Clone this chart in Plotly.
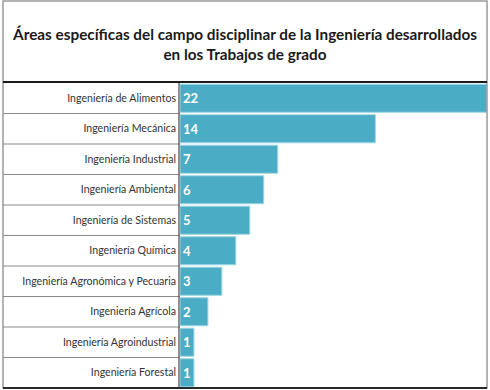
import plotly.graph_objects as go

categories = [
    "Ingeniería de Alimentos",
    "Ingeniería Mecánica",
    "Ingeniería Industrial",
    "Ingeniería Ambiental",
    "Ingeniería de Sistemas",
    "Ingeniería Química",
    "Ingeniería Agronómica y Pecuaria",
    "Ingeniería Agrícola",
    "Ingeniería Agroindustrial",
    "Ingeniería Forestal",
]
values = [22, 14, 7, 6, 5, 4, 3, 2, 1, 1]

title_lines = [
    "Áreas específicas del campo disciplinar de la Ingeniería desarrollados",
    "en los Trabajos de grado",
]

BAR_COLOR = "#4BACC6"
FONT = "Lato"

fig = go.Figure()
fig.add_trace(go.Bar(
    y=categories,
    x=values,
    orientation="h",
    marker=dict(color=BAR_COLOR, line=dict(color="#9fd6e4", width=1)),
    text=[str(v) for v in values],
    textposition="inside",
    insidetextanchor="start",
    textangle=0,
    constraintext="none",
    textfont=dict(family=FONT, size=13, color="white", weight="bold"),
    cliponaxis=False,
    hoverinfo="skip",
))

W, H = 490, 390
L, R, T, B = 180, 3, 83, 2

fig.update_layout(
    width=W, height=H,
    margin=dict(l=L, r=R, t=T, b=B, pad=0),
    paper_bgcolor="white",
    plot_bgcolor="white",
    showlegend=False,
    bargap=0.08,
    title=dict(
        text="<b>" + "<br>".join(title_lines) + "</b>",
        x=0.5, xanchor="center",
        y=1 - 40 / H, yanchor="middle",
        font=dict(family=FONT, size=15.3, color="#1a1a1a"),
    ),
    xaxis=dict(
        range=[0, 22], visible=False, fixedrange=True,
    ),
    yaxis=dict(
        autorange="reversed",
        showgrid=False, zeroline=False, showline=False,
        ticks="", ticklabelstandoff=3,
        tickfont=dict(family=FONT, size=10.6, color="#333333"),
        fixedrange=True,
    ),
)

PW = W - L - R
PH = H - T - B
shapes = []
# outer border
shapes.append(dict(type="rect", xref="paper", yref="paper",
                   x0=-(L - 3) / PW, x1=1.0, y0=0,
                   y1=1 + (T - 1) / PH,
                   line=dict(color="#9a9a9a", width=1.5), layer="above"))
# row separators in label column
n = len(categories)
for i in range(1, n):
    shapes.append(dict(type="line", xref="paper", yref="y",
                       x0=-(L - 3) / PW, x1=0, y0=i - 0.5, y1=i - 0.5,
                       line=dict(color="#8a8a8a", width=1.2)))
# vertical separator
shapes.append(dict(type="line", xref="paper", yref="paper",
                   x0=-1 / PW, x1=-1 / PW, y0=0, y1=1,
                   line=dict(color="#555555", width=1.3)))
# top thick line under title
shapes.append(dict(type="line", xref="paper", yref="paper",
                   x0=-(L - 3) / PW, x1=1, y0=1 + 1 / PH, y1=1 + 1 / PH,
                   line=dict(color="#1a1a1a", width=2), layer="above"))
# bottom thick line
shapes.append(dict(type="line", xref="paper", yref="paper",
                   x0=-(L - 3) / PW, x1=1, y0=0, y1=0,
                   line=dict(color="#2a2a2a", width=2), layer="above"))
fig.update_layout(shapes=shapes)

fig.write_html("out.html", config={"displayModeBar": False},
               post_script="document.body.style.margin='0px';")
